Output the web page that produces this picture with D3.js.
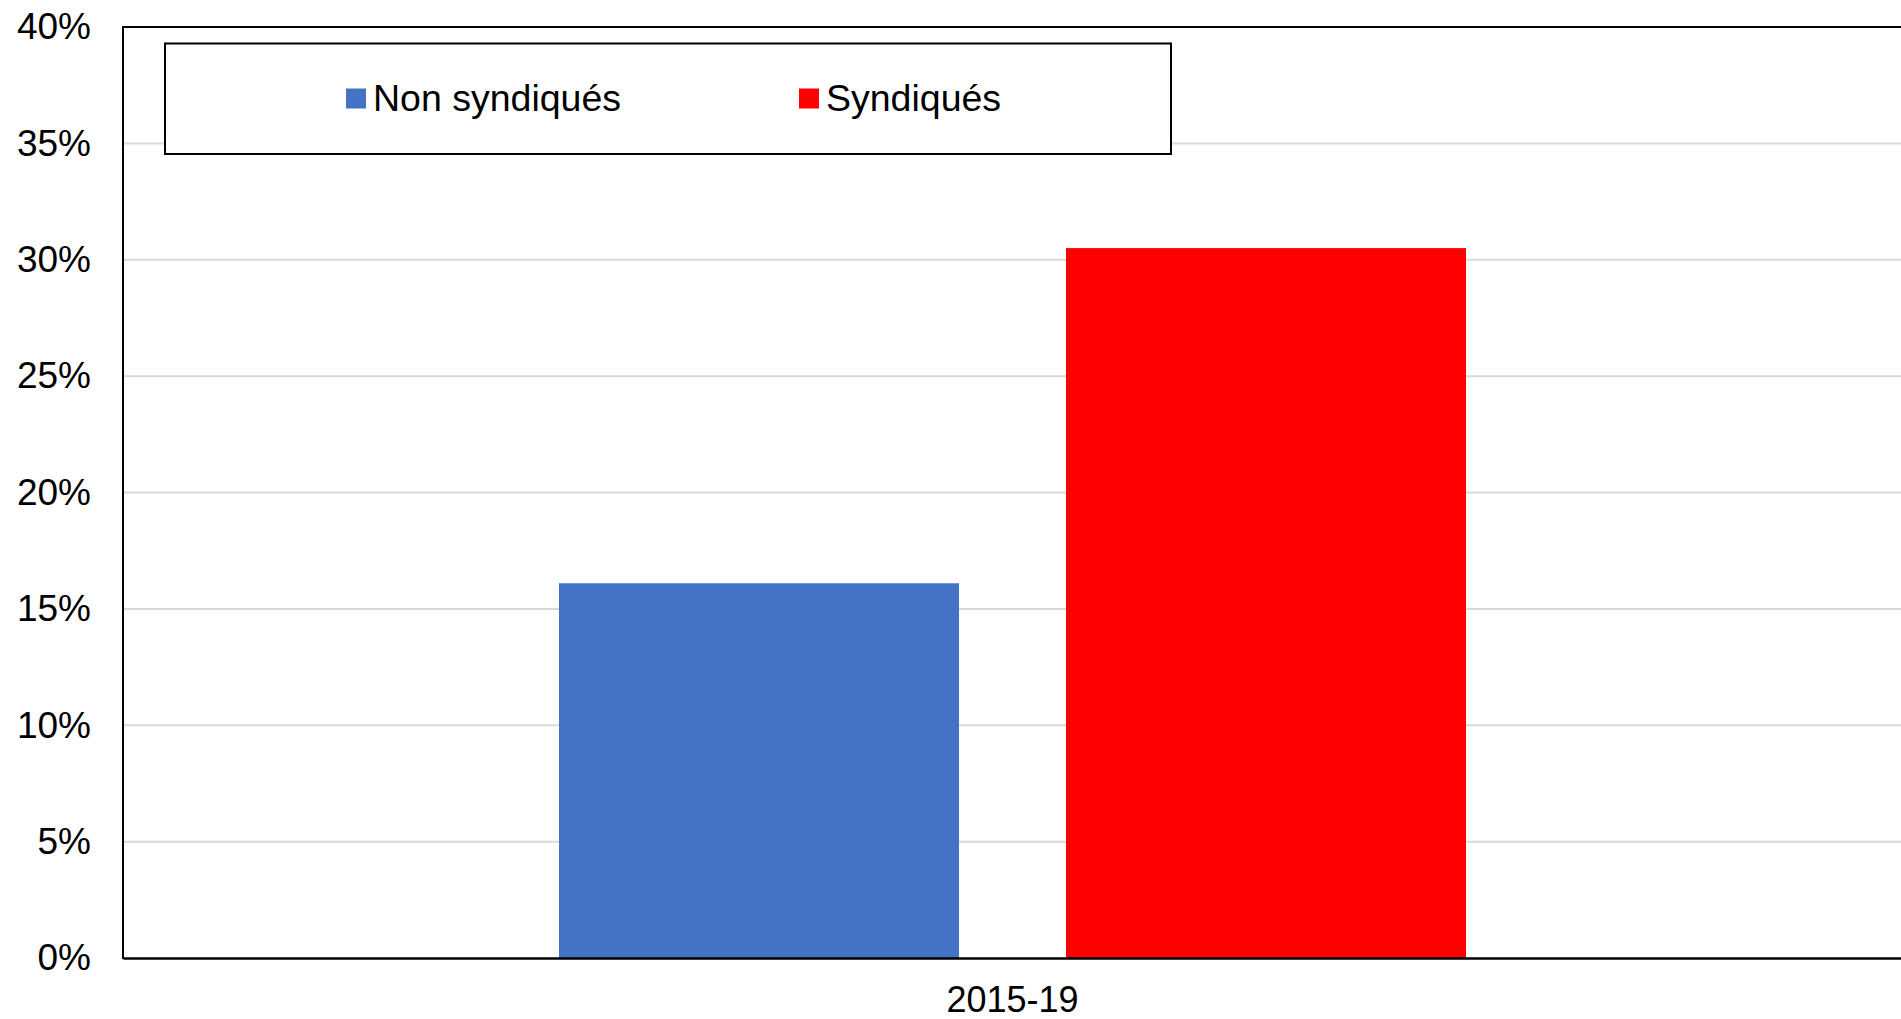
<!DOCTYPE html>
<html>
<head>
<meta charset="utf-8">
<script src="https://cdn.jsdelivr.net/npm/d3@7"></script>
<style>
  html, body { margin: 0; padding: 0; background: #fff; }
  svg { display: block; font-family: "Liberation Sans", Arial, sans-serif; }
</style>
</head>
<body>
<svg id="chart" width="1901" height="1019"></svg>
<script>
const categories = ["2015-19"];
const seriesNames = ["Non syndiqués", "Syndiqués"];
const seriesColors = ["#4472C4", "#FF0000"];
const nonSyndiques = [16.1];
const syndiques = [30.5];
const yTicks = [0, 5, 10, 15, 20, 25, 30, 35, 40];

const seriesValues = [nonSyndiques, syndiques];
const W = 1901, H = 1019;
const margin = { left: 123, right: -1, top: 27, bottom: 61 };
const svg = d3.select("#chart");

const x0 = d3.scaleBand().domain(categories)
  .range([margin.left, W - margin.right]).paddingInner(0).paddingOuter(0.4807);
const x1 = d3.scaleBand().domain(seriesNames)
  .range([0, x0.bandwidth()]).paddingInner(0.211).paddingOuter(0);
const y = d3.scaleLinear().domain([0, 40]).range([H - margin.bottom, margin.top]);

// gridlines
svg.append("g").selectAll("line").data(yTicks.filter(t => t > 0 && t < 40)).join("line")
  .attr("x1", margin.left).attr("x2", W)
  .attr("y1", d => y(d)).attr("y2", d => y(d))
  .attr("stroke", "#d9d9d9").attr("stroke-width", 2);

// bars
const g = svg.append("g");
categories.forEach((c, ci) => {
  seriesNames.forEach((s, si) => {
    const v = seriesValues[si][ci];
    g.append("rect")
      .attr("x", x0(c) + x1(s))
      .attr("y", y(v))
      .attr("width", x1.bandwidth())
      .attr("height", y(0) - y(v))
      .attr("fill", seriesColors[si]);
  });
});

// frame: top, left, bottom
svg.append("line").attr("x1", margin.left).attr("x2", W).attr("y1", y(40)).attr("y2", y(40))
  .attr("stroke", "#000").attr("stroke-width", 2);
svg.append("line").attr("x1", margin.left).attr("x2", margin.left).attr("y1", y(40) - 1).attr("y2", y(0) + 1)
  .attr("stroke", "#000").attr("stroke-width", 2);

// y axis labels
const yAxis = d3.axisLeft(y).tickValues(yTicks).tickFormat(d => d + "%").tickSize(0).tickPadding(32);
const ya = svg.append("g").attr("transform", `translate(${margin.left},0)`).call(yAxis);
ya.select(".domain").remove();
ya.selectAll("text").attr("font-size", 37).attr("fill", "#000")
  .attr("font-family", "'Liberation Sans', Arial, sans-serif");

// x axis
const xAxis = d3.axisBottom(x0).tickSize(0).tickPadding(28);
const xa = svg.append("g").attr("transform", `translate(0,${y(0)})`).call(xAxis);
xa.select(".domain").attr("stroke", "#000").attr("stroke-width", 2.5);
xa.selectAll("text").attr("font-size", 36).attr("fill", "#000")
  .attr("font-family", "'Liberation Sans', Arial, sans-serif");

// legend
const leg = svg.append("g");
leg.append("rect").attr("x", 165).attr("y", 43.5).attr("width", 1006).attr("height", 110.5)
  .attr("fill", "#fff").attr("stroke", "#000").attr("stroke-width", 2);
const legX = [346, 799];
seriesNames.forEach((s, i) => {
  leg.append("rect").attr("x", legX[i]).attr("y", 88.5).attr("width", 20).attr("height", 20)
    .attr("fill", seriesColors[i]);
  leg.append("text").attr("x", legX[i] + 27).attr("y", 111)
    .attr("font-size", 37.5).attr("fill", "#000").text(s);
});
</script>
</body>
</html>
